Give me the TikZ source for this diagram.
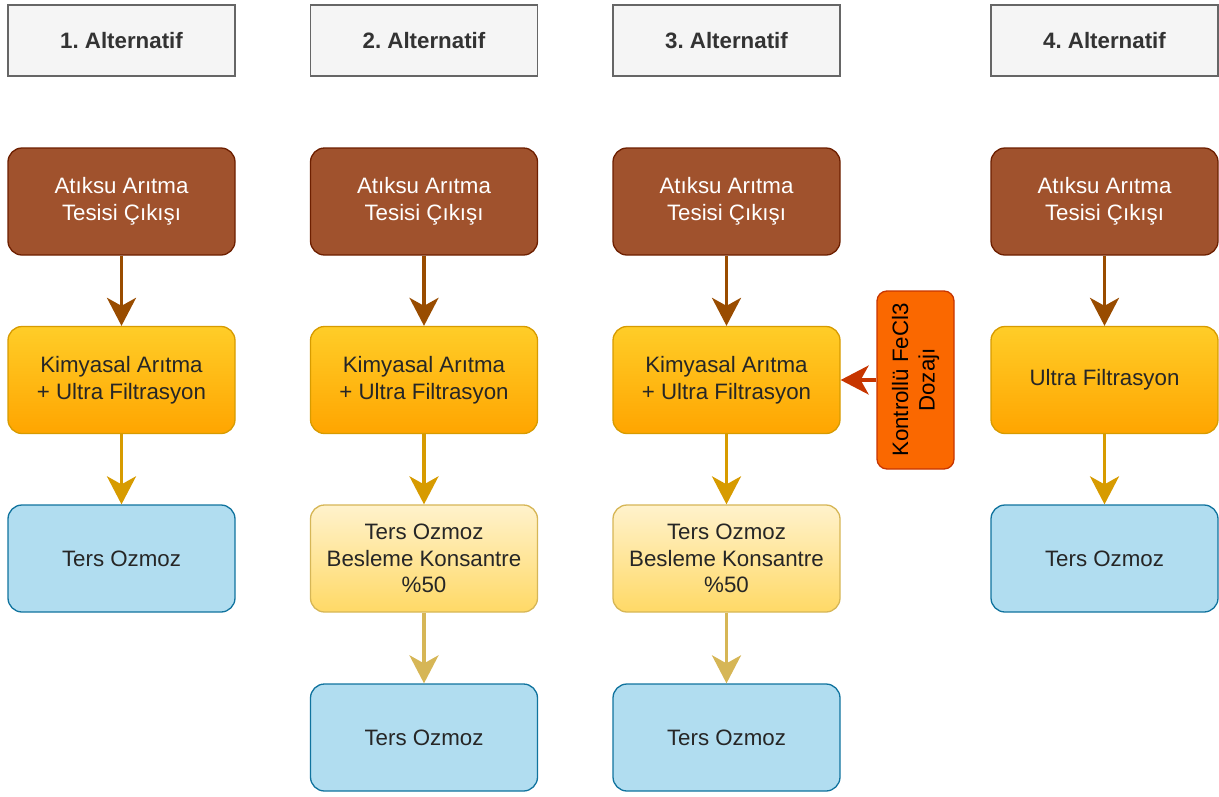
\documentclass[tikz,border=0pt]{standalone}
\usepackage{fontspec}
\setmainfont{Liberation Sans}
\usetikzlibrary{arrows.meta}
\frenchspacing
\definecolor{hdrfill}{HTML}{F5F5F5}
\definecolor{hdrline}{HTML}{666666}
\definecolor{hdrtext}{HTML}{333333}
\definecolor{brfill}{HTML}{A0522D}
\definecolor{brline}{HTML}{6D1F00}
\definecolor{brarrow}{HTML}{994C00}
\definecolor{ortop}{HTML}{FFCD28}
\definecolor{orbot}{HTML}{FFA500}
\definecolor{orline}{HTML}{D79B00}
\definecolor{yetop}{HTML}{FFF2CC}
\definecolor{yebot}{HTML}{FFD966}
\definecolor{yeline}{HTML}{D6B656}
\definecolor{blfill}{HTML}{B1DDF0}
\definecolor{blline}{HTML}{10739E}
\definecolor{fefill}{HTML}{FA6800}
\definecolor{feline}{HTML}{C73500}
\tikzset{
  box/.style={minimum width=227pt, minimum height=107pt, inner sep=0pt,
    align=center, line width=1.3pt, font=\fontsize{22.3}{26.5}\selectfont},
  hdrbox/.style={box, rounded corners=0pt, minimum height=71pt, fill=hdrfill,
    draw=hdrline, text=hdrtext, font=\fontsize{22.3}{26.5}\selectfont\bfseries},
  srcbox/.style={box, rounded corners=14pt, fill=brfill, draw=brline, text=white},
  treatbox/.style={box, rounded corners=14pt, top color=ortop, bottom color=orbot,
    draw=orline, text=black!85},
  concbox/.style={box, rounded corners=14pt, top color=yetop, bottom color=yebot,
    draw=yeline, text=black!85},
  robox/.style={box, rounded corners=14pt, fill=blfill, draw=blline, text=black!85},
  dosebox/.style={box, rounded corners=10pt, minimum width=178pt, minimum height=77pt,
    fill=fefill, draw=feline, text=black, rotate=90},
  flow/.style={line width=3.4pt, -{Stealth[length=28pt, width=29pt, inset=8pt]}},
}
\begin{document}
\begin{tikzpicture}[x=1pt, y=-1pt]
\useasboundingbox (0,0) rectangle (1219,796);

% column headers
\node[hdrbox] (h1) at (121.5,40.5) {1. Alternatif};
\node[hdrbox] (h2) at (424,40.5) {2. Alternatif};
\node[hdrbox] (h3) at (726.5,40.5) {3. Alternatif};
\node[hdrbox] (h4) at (1104.5,40.5) {4. Alternatif};

% alternative 1
\node[srcbox] (a1) at (121.5,201.5) {Atıksu Arıtma\\Tesisi Çıkışı};
\node[treatbox] (b1) at (121.5,380) {Kimyasal Arıtma\\+ Ultra Filtrasyon};
\node[robox] (c1) at (121.5,558.5) {Ters Ozmoz};

% alternative 2
\node[srcbox] (a2) at (424,201.5) {Atıksu Arıtma\\Tesisi Çıkışı};
\node[treatbox] (b2) at (424,380) {Kimyasal Arıtma\\+ Ultra Filtrasyon};
\node[concbox] (c2) at (424,558.5) {Ters Ozmoz\\Besleme Konsantre\\\%50};
\node[robox] (d2) at (424,737.5) {Ters Ozmoz};

% alternative 3
\node[srcbox] (a3) at (726.5,201.5) {Atıksu Arıtma\\Tesisi Çıkışı};
\node[treatbox] (b3) at (726.5,380) {Kimyasal Arıtma\\+ Ultra Filtrasyon};
\node[concbox] (c3) at (726.5,558.5) {Ters Ozmoz\\Besleme Konsantre\\\%50};
\node[robox] (d3) at (726.5,737.5) {Ters Ozmoz};
\node[dosebox] (f3) at (915.5,380) {Kontrollü FeCl3\\Dozajı};

% alternative 4
\node[srcbox] (a4) at (1104.5,201.5) {Atıksu Arıtma\\Tesisi Çıkışı};
\node[treatbox] (b4) at (1104.5,380) {Ultra Filtrasyon};
\node[robox] (c4) at (1104.5,558.5) {Ters Ozmoz};

% connectors
\foreach \i in {1,2,3,4} {
  \draw[flow, brarrow] (a\i) -- (b\i);
  \draw[flow, orline] (b\i) -- (c\i);
}
\draw[flow, yeline] (c2) -- (d2);
\draw[flow, yeline] (c3) -- (d3);
\draw[flow, feline] (f3) -- (b3);
\end{tikzpicture}
\end{document}
